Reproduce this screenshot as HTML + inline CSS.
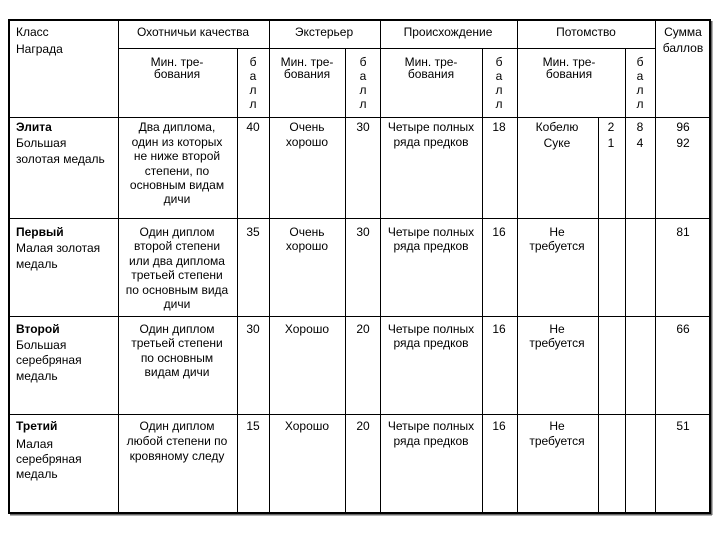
<!DOCTYPE html>
<html><head><meta charset="utf-8"><style>
html,body{margin:0;padding:0;background:#fff;}
svg{display:block;}
text{font-family:"Liberation Sans","DejaVu Sans",sans-serif;font-size:12px;fill:#000;}
.c{text-anchor:middle;}
.b{font-weight:bold;}
</style></head><body>
<svg width="720" height="540" viewBox="0 0 720 540" xmlns="http://www.w3.org/2000/svg">
<rect width="720" height="540" fill="#fff"/>
<g stroke="#000" stroke-width="1" shape-rendering="crispEdges">
<!-- horizontal -->
<line x1="118" y1="48.5" x2="655" y2="48.5"/>
<line x1="8" y1="117.5" x2="711" y2="117.5"/>
<line x1="8" y1="218.5" x2="711" y2="218.5"/>
<line x1="8" y1="316.5" x2="711" y2="316.5"/>
<line x1="8" y1="414.5" x2="711" y2="414.5"/>
<!-- vertical full -->
<line x1="118.5" y1="20" x2="118.5" y2="513"/>
<line x1="269.5" y1="20" x2="269.5" y2="513"/>
<line x1="380.5" y1="20" x2="380.5" y2="513"/>
<line x1="517.5" y1="20" x2="517.5" y2="513"/>
<line x1="655.5" y1="20" x2="655.5" y2="513"/>
<!-- vertical sub -->
<line x1="237.5" y1="48" x2="237.5" y2="513"/>
<line x1="345.5" y1="48" x2="345.5" y2="513"/>
<line x1="482.5" y1="48" x2="482.5" y2="513"/>
<line x1="625.5" y1="48" x2="625.5" y2="513"/>
<line x1="598.5" y1="117" x2="598.5" y2="513"/>
</g>
<!-- outer border -->
<rect x="9" y="20" width="701" height="493" fill="none" stroke="#000" stroke-width="2" shape-rendering="crispEdges"/>
<rect x="711" y="21" width="1.5" height="494" fill="#666"/>
<rect x="10" y="514" width="702" height="1.5" fill="#666"/>

<!-- header -->
<text x="16" y="36">Класс</text>
<text x="16" y="53">Награда</text>
<text class="c" x="193" y="36">Охотничьи качества</text>
<text class="c" x="324" y="36">Экстерьер</text>
<text class="c" x="448" y="36">Происхождение</text>
<text class="c" x="586" y="36">Потомство</text>
<text class="c" x="683" y="36">Сумма</text>
<text class="c" x="683" y="52">баллов</text>

<text class="c" x="177" y="66">Мин. тре-</text><text class="c" x="177" y="78">бования</text>
<text class="c" x="307" y="66">Мин. тре-</text><text class="c" x="307" y="78">бования</text>
<text class="c" x="431" y="66">Мин. тре-</text><text class="c" x="431" y="78">бования</text>
<text class="c" x="569" y="66">Мин. тре-</text><text class="c" x="569" y="78">бования</text>
<g class="c">
<text class="c" x="253" y="66">б</text><text class="c" x="253" y="80">а</text><text class="c" x="253" y="94">л</text><text class="c" x="253" y="108">л</text>
<text class="c" x="363" y="66">б</text><text class="c" x="363" y="80">а</text><text class="c" x="363" y="94">л</text><text class="c" x="363" y="108">л</text>
<text class="c" x="499" y="66">б</text><text class="c" x="499" y="80">а</text><text class="c" x="499" y="94">л</text><text class="c" x="499" y="108">л</text>
<text class="c" x="640" y="66">б</text><text class="c" x="640" y="80">а</text><text class="c" x="640" y="94">л</text><text class="c" x="640" y="108">л</text>
</g>

<!-- row 1 -->
<text class="b" x="16" y="131">Элита</text>
<text x="16" y="147">Большая</text>
<text x="16" y="163">золотая медаль</text>
<text class="c" x="177" y="131">Два диплома,</text>
<text class="c" x="177" y="146">один из которых</text>
<text class="c" x="177" y="160">не ниже второй</text>
<text class="c" x="177" y="175">степени, по</text>
<text class="c" x="177" y="189">основным видам</text>
<text class="c" x="177" y="203">дичи</text>
<text class="c" x="253" y="131">40</text>
<text class="c" x="307" y="131">Очень</text>
<text class="c" x="307" y="146">хорошо</text>
<text class="c" x="363" y="131">30</text>
<text class="c" x="431" y="131">Четыре полных</text>
<text class="c" x="431" y="146">ряда предков</text>
<text class="c" x="499" y="131">18</text>
<text class="c" x="557" y="131">Кобелю</text>
<text class="c" x="557" y="147">Суке</text>
<text class="c" x="611" y="131">2</text>
<text class="c" x="611" y="147">1</text>
<text class="c" x="640" y="131">8</text>
<text class="c" x="640" y="147">4</text>
<text class="c" x="683" y="131">96</text>
<text class="c" x="683" y="147">92</text>

<!-- row 2 -->
<text class="b" x="16" y="236">Первый</text>
<text x="16" y="252">Малая золотая</text>
<text x="16" y="268">медаль</text>
<text class="c" x="177" y="236">Один диплом</text>
<text class="c" x="177" y="250">второй степени</text>
<text class="c" x="177" y="265">или два диплома</text>
<text class="c" x="177" y="279">третьей степени</text>
<text class="c" x="177" y="294">по основным вида</text>
<text class="c" x="177" y="308">дичи</text>
<text class="c" x="253" y="236">35</text>
<text class="c" x="307" y="236">Очень</text>
<text class="c" x="307" y="250">хорошо</text>
<text class="c" x="363" y="236">30</text>
<text class="c" x="431" y="236">Четыре полных</text>
<text class="c" x="431" y="250">ряда предков</text>
<text class="c" x="499" y="236">16</text>
<text class="c" x="557" y="236">Не</text>
<text class="c" x="557" y="250">требуется</text>
<text class="c" x="683" y="236">81</text>

<!-- row 3 -->
<text class="b" x="16" y="333">Второй</text>
<text x="16" y="349">Большая</text>
<text x="16" y="364">серебряная</text>
<text x="16" y="380">медаль</text>
<text class="c" x="177" y="333">Один диплом</text>
<text class="c" x="177" y="347">третьей степени</text>
<text class="c" x="177" y="362">по основным</text>
<text class="c" x="177" y="376">видам дичи</text>
<text class="c" x="253" y="333">30</text>
<text class="c" x="307" y="333">Хорошо</text>
<text class="c" x="363" y="333">20</text>
<text class="c" x="431" y="333">Четыре полных</text>
<text class="c" x="431" y="347">ряда предков</text>
<text class="c" x="499" y="333">16</text>
<text class="c" x="557" y="333">Не</text>
<text class="c" x="557" y="347">требуется</text>
<text class="c" x="683" y="333">66</text>

<!-- row 4 -->
<text class="b" x="16" y="430">Третий</text>
<text x="16" y="448">Малая</text>
<text x="16" y="463">серебряная</text>
<text x="16" y="478">медаль</text>
<text class="c" x="177" y="430">Один диплом</text>
<text class="c" x="177" y="445">любой степени по</text>
<text class="c" x="177" y="460">кровяному следу</text>
<text class="c" x="253" y="430">15</text>
<text class="c" x="307" y="430">Хорошо</text>
<text class="c" x="363" y="430">20</text>
<text class="c" x="431" y="430">Четыре полных</text>
<text class="c" x="431" y="445">ряда предков</text>
<text class="c" x="499" y="430">16</text>
<text class="c" x="557" y="430">Не</text>
<text class="c" x="557" y="445">требуется</text>
<text class="c" x="683" y="430">51</text>
</svg>
</body></html>
